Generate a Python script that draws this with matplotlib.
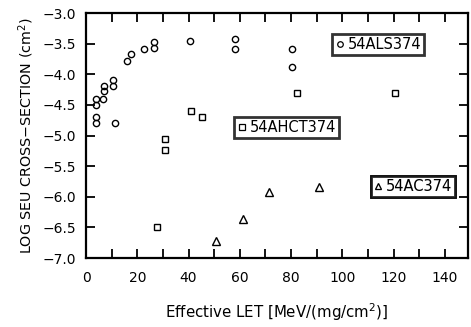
import numpy as np
import matplotlib
matplotlib.use("Agg")
import matplotlib.pyplot as plt
from matplotlib.lines import Line2D

# effective LET vs log cross-section
als_let = [3.9, 3.9, 3.9, 3.9, 6.8, 7.1, 7.1, 10.4, 10.4, 11.4, 15.9, 17.5, 22.5, 26.4, 26.4,
           40.6, 58.2, 58.2, 80.5, 80.5]
als_sig = [-4.41, -4.50, -4.69, -4.79, -4.40, -4.27, -4.19, -4.19, -4.10, -4.79, -3.79, -3.67,
           -3.58, -3.57, -3.47, -3.46, -3.43, -3.59, -3.59, -3.88]

ahct_let = [27.6, 30.8, 30.8, 41.0, 45.4, 82.4, 120.5]
ahct_sig = [-6.49, -5.06, -5.24, -4.60, -4.70, -4.30, -4.30]

ac_let = [50.7, 61.4, 71.5, 90.9]
ac_sig = [-6.72, -6.37, -5.93, -5.84]

plt.rcParams['font.family'] = ['DejaVu Sans']
plt.rcParams['font.size'] = 9.5

fig = plt.figure(figsize=(4.71, 3.27), dpi=100)
ax = fig.add_axes([0.1826, 0.211, 0.811, 0.749])

mk = dict(linestyle='none', mfc='none', mec='black', mew=1.0, ms=4.5)
ax.plot(als_let, als_sig, marker='o', **mk)
ax.plot(ahct_let, ahct_sig, marker='s', **dict(mk, ms=4.3))
ax.plot(ac_let, ac_sig, marker='^', **dict(mk, ms=6))

ax.set_xlim(0, 149)
ax.set_ylim(-7.0, -3.0)
ax.set_xticks(np.arange(0, 141, 20))
ax.set_xticks(np.arange(10, 141, 20), minor=True)
ax.set_yticks(np.arange(-7.0, -2.99, 0.5))
ax.set_yticklabels(['\u22127.0', '\u22126.5', '\u22126.0', '\u22125.5', '\u22125.0',
                    '\u22124.5', '\u22124.0', '\u22123.5', '\u22123.0'])
ax.tick_params(which='both', direction='in', length=6.5, width=1.3,
               top=True, right=True, labelsize=10, pad=7)
ax.tick_params(axis='x', pad=9)

for s in ax.spines.values():
    s.set_linewidth(1.6)

ax.set_ylabel('LOG SEU CROSS\u2212SECTION (cm$^2$)', fontsize=10.3, labelpad=5)
ax.set_xlabel('Effective LET [MeV/(mg/cm$^2$)]', fontsize=10.8, labelpad=12)

def boxed(marker, label, xy, ms):
    h = Line2D([], [], marker=marker, linestyle='none', mfc='none', mec='black',
               mew=0.9, ms=ms)
    lg = ax.legend([h], [label], loc='center', bbox_to_anchor=xy, frameon=True,
                   fancybox=False, handlelength=0.6, handletextpad=0.25,
                   borderpad=0.2, borderaxespad=0, fontsize=10.5)
    lg.get_frame().set_edgecolor('black')
    lg.get_frame().set_linewidth(2)
    ax.add_artist(lg)

boxed('o', '54ALS374', (0.765, 0.873), 4)
boxed('s', '54AHCT374', (0.525, 0.533), 4)
boxed('^', '54AC374', (0.856, 0.292), 5)

fig.savefig('out.png', dpi=100)
